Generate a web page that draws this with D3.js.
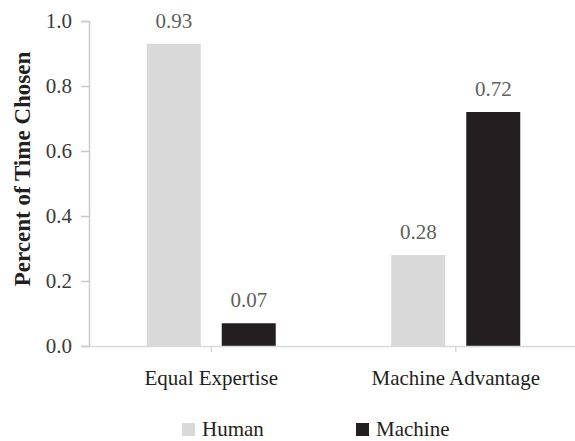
<!DOCTYPE html>
<html>
<head>
<meta charset="utf-8">
<script src="https://cdn.jsdelivr.net/npm/d3@7"></script>
<style>
  html, body { margin: 0; padding: 0; background: #fff; }
  svg { display: block; }
  text { font-family: "Liberation Serif", "Times New Roman", serif; }
</style>
</head>
<body>
<svg id="chart" width="575" height="441"></svg>
<script>
// Share of trials in which each advisor was chosen, by condition
const categories = ["Equal Expertise", "Machine Advantage"];
const seriesNames = ["Human", "Machine"];
const humanValues = [0.93, 0.28];
const machineValues = [0.07, 0.72];
const yTicks = [0.0, 0.2, 0.4, 0.6, 0.8, 1.0];
const seriesColors = ["#d9d9da", "#231f20"];

const valuesBySeries = [humanValues, machineValues];
const rows = categories.map((c, i) => ({
  category: c,
  bars: seriesNames.map((s, j) => ({ series: s, value: valuesBySeries[j][i], color: seriesColors[j] }))
}));

const svg = d3.select("#chart");
const W = 575, H = 441;
const margin = { left: 89, top: 21, bottom: 95 };
const plotBottom = 346;

const x = d3.scaleBand().domain(categories).range([margin.left, 578]).padding(0);
const inner = d3.scaleBand().domain(seriesNames).range([-64.5, 64.5]).paddingInner(0.28);
const y = d3.scaleLinear().domain([0, 1]).range([plotBottom, margin.top]);

const axisColor = "#c9c9c9";

// Y axis
const yAxis = svg.append("g")
  .attr("transform", `translate(${margin.left},0)`)
  .call(d3.axisLeft(y).tickValues(yTicks).tickFormat(d3.format(".1f")).tickSizeInner(8).tickSizeOuter(8).tickPadding(9));
yAxis.select(".domain").attr("stroke", axisColor).attr("stroke-width", 1.5);
yAxis.selectAll(".tick line").attr("stroke", axisColor).attr("stroke-width", 1.5);
yAxis.selectAll(".tick text")
  .attr("font-family", "Liberation Serif")
  .attr("font-size", 21)
  .attr("fill", "#3a3a3a");

// Bars
const groups = svg.append("g").selectAll("g")
  .data(rows).join("g")
  .attr("transform", d => `translate(${x(d.category) + x.bandwidth() / 2},0)`);

groups.selectAll("rect")
  .data(d => d.bars).join("rect")
  .attr("x", d => inner(d.series))
  .attr("width", inner.bandwidth())
  .attr("y", d => y(d.value))
  .attr("height", d => plotBottom - y(d.value))
  .attr("fill", d => d.color);

// Value labels
groups.selectAll("text.val")
  .data(d => d.bars).join("text")
  .attr("class", "val")
  .attr("x", d => inner(d.series) + inner.bandwidth() / 2)
  .attr("y", d => y(d.value) - 16)
  .attr("text-anchor", "middle")
  .attr("font-size", 21)
  .attr("fill", "#5f5f5f")
  .text(d => d.value.toFixed(2));

// X axis
const xAxis = svg.append("g")
  .attr("transform", `translate(0,${plotBottom})`)
  .call(d3.axisBottom(x).tickSizeInner(6).tickSizeOuter(0).tickPadding(18));
xAxis.select(".domain").attr("stroke", "#d9d9d9").attr("stroke-width", 1.5);
xAxis.selectAll(".tick line").attr("stroke", "#d9d9d9").attr("stroke-width", 1.5);
xAxis.selectAll(".tick text")
  .attr("font-family", "Liberation Serif")
  .attr("font-size", 21)
  .attr("fill", "#231f20");

// Y axis title
svg.append("text")
  .attr("transform", `translate(30,169) rotate(-90)`)
  .attr("text-anchor", "middle")
  .attr("font-size", 23)
  .attr("font-weight", "bold")
  .attr("fill", "#231f20")
  .text("Percent of Time Chosen");

// Legend
const legendX = [182, 356];
const legend = svg.append("g").selectAll("g")
  .data(seriesNames).join("g")
  .attr("transform", (d, i) => `translate(${legendX[i]},423)`);
legend.append("rect")
  .attr("width", 13).attr("height", 13)
  .attr("fill", (d, i) => seriesColors[i]);
legend.append("text")
  .attr("x", 20).attr("y", 13)
  .attr("font-size", 21)
  .attr("fill", "#231f20")
  .text(d => d);
</script>
</body>
</html>
